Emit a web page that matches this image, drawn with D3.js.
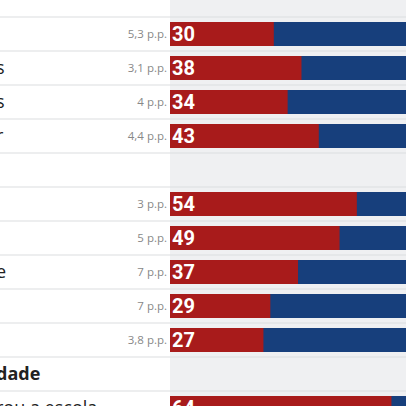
<!DOCTYPE html>
<html><head><meta charset="utf-8">
<script src="https://cdn.jsdelivr.net/npm/d3@7"></script>
<style>body{margin:0;background:#fff;font-family:"Open Sans",Roboto,sans-serif;}</style>
</head><body>
<script>
// rows: label fragment, margin note, value (null = heading/blank row)
const labels = ["", "s", "s", "r", "", "", "", "e", "", "", "dade", "rou a escola"];
const notes = ["5,3 p.p.", "3,1 p.p.", "4 p.p.", "4,4 p.p.", "", "3 p.p.", "5 p.p.", "7 p.p.", "7 p.p.", "3,8 p.p.", "", "p.p."];
const values = [30, 38, 34, 43, null, 54, 49, 37, 29, 27, null, 64];
const headings = [10];

const W = 406, H = 406;
const svg = d3.select('body').append('svg').attr('width', W).attr('height', H);

const y = d3.scaleBand().domain(d3.range(values.length)).range([17, 17 + 34 * values.length]);
const x = d3.scaleLinear().domain([0, 100]).range([170, 516]);

svg.append('rect').attr('x', 170).attr('y', 0).attr('width', W - 170).attr('height', H).attr('fill', '#eff0f2');

// separators
svg.selectAll('line.sep').data(values).join('line')
  .attr('x1', 0).attr('x2', W)
  .attr('y1', (d, i) => y(i)).attr('y2', (d, i) => y(i))
  .attr('stroke', '#dcdde0').attr('stroke-width', 1.2);

const bh = 24;
const rows = values.map((v, i) => ({ v, i })).filter(d => d.v != null);

svg.selectAll('rect.blue').data(rows).join('rect')
  .attr('x', x(0)).attr('y', d => y(d.i) + (34 - bh) / 2)
  .attr('width', W - x(0)).attr('height', bh).attr('fill', '#173f7c');
svg.selectAll('rect.red').data(rows).join('rect')
  .attr('x', x(0)).attr('y', d => y(d.i) + (34 - bh) / 2)
  .attr('width', d => x(d.v) - x(0)).attr('height', bh).attr('fill', '#a81b1b');

svg.selectAll('text.val').data(rows).join('text')
  .attr('x', x(0) + 2).attr('y', d => y(d.i) + 17).attr('dy', '0.36em')
  .attr('fill', '#fff').attr('font-size', 20).attr('font-weight', 700)
  .attr('font-family', 'Roboto, sans-serif').text(d => d.v);

svg.selectAll('text.note').data(notes).join('text')
  .attr('x', 167).attr('y', (d, i) => y(i) + 17).attr('dy', '0.36em')
  .attr('text-anchor', 'end').attr('fill', '#888').attr('font-size', 11.5).text(d => d);

svg.selectAll('text.lab').data(labels).join('text')
  .attr('x', -4).attr('y', (d, i) => y(i) + 17).attr('dy', '0.36em')
  .attr('fill', '#222').attr('font-size', 18)
  .attr('font-weight', (d, i) => headings.includes(i) ? 700 : 400)
  .text(d => d);
</script>
</body></html>
